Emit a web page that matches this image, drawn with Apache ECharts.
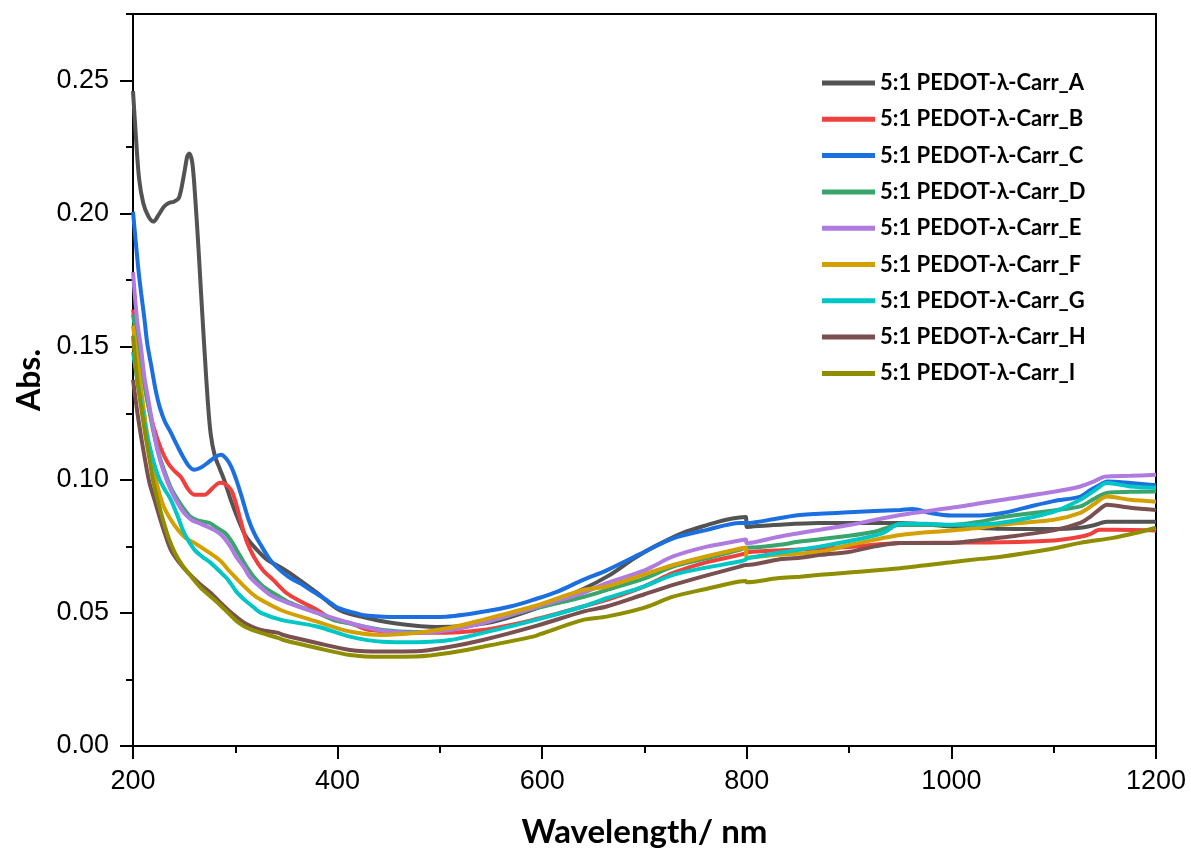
<!DOCTYPE html>
<html>
<head>
<meta charset="utf-8">
<script src="https://cdn.jsdelivr.net/npm/echarts@6/dist/echarts.min.js"></script>
<style>
html,body{margin:0;padding:0;background:#fff;}
#chart{width:1191px;height:859px;}
</style>
</head>
<body>
<div id="chart"></div>
<script>
// ---- data (wavelength nm, absorbance) ----
const seriesNames = ['5:1 PEDOT-λ-Carr_A','5:1 PEDOT-λ-Carr_B','5:1 PEDOT-λ-Carr_C','5:1 PEDOT-λ-Carr_D','5:1 PEDOT-λ-Carr_E','5:1 PEDOT-λ-Carr_F','5:1 PEDOT-λ-Carr_G','5:1 PEDOT-λ-Carr_H','5:1 PEDOT-λ-Carr_I'];
const seriesColors = ['#535353','#f0403e','#1c6fe0','#38a56c','#b07be0','#d4a000','#00c6c6','#7a4f4f','#8e8e00'];

const dataA = [[200,0.246],[203,0.228],[206,0.213],[210,0.204],[215,0.199],[220,0.197],[225,0.1995],[230,0.2025],[235,0.204],[240,0.2045],[245,0.206],[250,0.215],[253,0.2215],[255,0.2226],[258,0.219],[261,0.205],[264,0.187],[267,0.167],[270,0.148],[273,0.13],[276,0.117],[280,0.109],[285,0.104],[290,0.099],[296,0.092],[303,0.085],[310,0.079],[318,0.075],[331,0.070],[345,0.067],[353,0.065],[380,0.0575],[402,0.051],[430,0.048],[461,0.0458],[497,0.0447],[550,0.0465],[600,0.0525],[640,0.059],[665,0.064],[690,0.0705],[710,0.075],[737,0.080],[761,0.083],[780,0.085],[799,0.086],[800,0.0823],[826,0.083],[870,0.0838],[950,0.0838],[1000,0.0825],[1048,0.0816],[1100,0.0815],[1126,0.082],[1140,0.083],[1152,0.0842],[1200,0.0842]];

const dataB = [[200,0.164],[205,0.150],[210,0.139],[215,0.128],[220,0.120],[227,0.112],[234,0.1064],[240,0.1035],[247,0.101],[253,0.097],[260,0.0944],[270,0.0944],[278,0.097],[285,0.0989],[290,0.0985],[296,0.0962],[300,0.092],[305,0.085],[311,0.077],[318,0.0712],[327,0.066],[337,0.0624],[350,0.0575],[363,0.0545],[380,0.0511],[396,0.0474],[412,0.0462],[428,0.0438],[444,0.0432],[461,0.0426],[493,0.0425],[542,0.0436],[591,0.0474],[640,0.0524],[663,0.0549],[700,0.060],[728,0.065],[760,0.069],[793,0.0718],[799,0.0725],[800,0.0728],[850,0.0738],[900,0.0748],[950,0.0763],[1000,0.0764],[1050,0.0765],[1100,0.0772],[1126,0.0786],[1135,0.0795],[1145,0.0812],[1160,0.0812],[1200,0.081]];

const dataC = [[200,0.2007],[205,0.18],[208,0.170],[211,0.161],[214,0.151],[218,0.1425],[222,0.134],[226,0.1275],[231,0.122],[237,0.1177],[243,0.113],[249,0.1086],[255,0.105],[260,0.1038],[266,0.1045],[273,0.1064],[280,0.1085],[286,0.1094],[291,0.108],[296,0.105],[301,0.1],[306,0.094],[313,0.085],[319,0.0795],[326,0.0748],[333,0.0705],[340,0.0674],[352,0.0635],[363,0.0612],[376,0.058],[389,0.0549],[400,0.052],[412,0.0505],[428,0.049],[444,0.0486],[461,0.0485],[500,0.0485],[542,0.0504],[570,0.0525],[591,0.0549],[615,0.058],[640,0.0624],[663,0.066],[695,0.072],[728,0.078],[761,0.0812],[793,0.0838],[800,0.0838],[830,0.0855],[852,0.0868],[900,0.0878],[950,0.0887],[962,0.089],[980,0.0875],[1000,0.0866],[1028,0.0866],[1050,0.0875],[1077,0.090],[1100,0.092],[1126,0.0937],[1136,0.0962],[1145,0.098],[1152,0.0994],[1175,0.0988],[1200,0.098]];

const dataD = [[200,0.162],[204,0.152],[208,0.143],[212,0.134],[216,0.126],[220,0.118],[225,0.110],[231,0.103],[237,0.097],[243,0.093],[250,0.089],[256,0.0862],[263,0.0848],[270,0.0842],[275,0.0838],[282,0.082],[290,0.080],[297,0.0765],[303,0.0725],[310,0.068],[318,0.0636],[327,0.060],[337,0.0575],[350,0.0545],[363,0.0524],[380,0.050],[396,0.0474],[412,0.046],[444,0.0436],[477,0.0428],[510,0.0438],[542,0.0462],[591,0.0515],[640,0.056],[663,0.0586],[700,0.063],[728,0.0674],[760,0.0705],[793,0.0737],[799,0.0745],[800,0.0745],[830,0.0755],[852,0.0768],[900,0.079],[925,0.0805],[950,0.0831],[1000,0.083],[1028,0.0843],[1050,0.086],[1100,0.0885],[1126,0.090],[1140,0.093],[1152,0.0951],[1175,0.0955],[1200,0.0956]];

const dataE = [[200,0.178],[204,0.16],[208,0.149],[211,0.139],[215,0.130],[220,0.119],[224,0.111],[230,0.103],[237,0.0962],[244,0.091],[250,0.0875],[257,0.085],[264,0.0838],[272,0.0825],[280,0.081],[287,0.079],[295,0.075],[301,0.071],[308,0.0674],[314,0.0636],[324,0.0599],[335,0.0565],[350,0.054],[380,0.050],[412,0.0462],[444,0.0433],[477,0.0425],[510,0.0436],[542,0.0462],[591,0.0518],[640,0.0575],[663,0.0612],[700,0.066],[728,0.0712],[761,0.0749],[796,0.0774],[799,0.0776],[800,0.0762],[830,0.0785],[871,0.0812],[900,0.083],[950,0.0868],[1000,0.0895],[1028,0.0912],[1050,0.0925],[1100,0.0955],[1126,0.0975],[1140,0.0995],[1150,0.1012],[1175,0.1015],[1200,0.1019]];

const dataF = [[200,0.158],[204,0.146],[208,0.134],[212,0.122],[216,0.112],[220,0.104],[225,0.096],[230,0.090],[237,0.085],[244,0.0812],[252,0.078],[260,0.0763],[270,0.0738],[280,0.0712],[287,0.069],[293,0.0662],[301,0.063],[309,0.0599],[317,0.057],[325,0.0549],[345,0.051],[380,0.0467],[412,0.043],[444,0.0417],[477,0.0425],[510,0.0444],[542,0.0474],[591,0.0524],[640,0.0586],[663,0.0599],[700,0.0645],[728,0.068],[760,0.0712],[796,0.0744],[799,0.0745],[800,0.0707],[830,0.0718],[872,0.073],[900,0.0755],[950,0.0793],[1000,0.081],[1028,0.082],[1047,0.0831],[1100,0.085],[1126,0.0876],[1140,0.091],[1152,0.0937],[1175,0.0925],[1200,0.0918]];

const dataG = [[200,0.148],[204,0.138],[208,0.129],[212,0.12],[216,0.113],[220,0.107],[225,0.101],[230,0.097],[237,0.0925],[244,0.086],[250,0.080],[260,0.0737],[268,0.071],[276,0.0688],[285,0.0655],[293,0.0624],[301,0.058],[309,0.0549],[317,0.0524],[325,0.050],[345,0.0474],[380,0.0449],[412,0.0411],[444,0.0392],[477,0.039],[510,0.0398],[542,0.0425],[595,0.0475],[640,0.0524],[663,0.0555],[700,0.06],[728,0.0643],[760,0.067],[793,0.0693],[799,0.070],[800,0.0705],[830,0.0725],[872,0.075],[900,0.077],[933,0.080],[950,0.0835],[975,0.0835],[1000,0.0831],[1047,0.0838],[1100,0.088],[1126,0.0925],[1140,0.096],[1152,0.0988],[1175,0.0975],[1200,0.097]];

const dataH = [[200,0.1376],[204,0.126],[208,0.116],[212,0.107],[216,0.099],[221,0.0925],[226,0.086],[231,0.080],[237,0.0737],[245,0.069],[254,0.065],[265,0.061],[276,0.0575],[285,0.054],[293,0.0511],[301,0.0485],[309,0.0462],[317,0.0447],[325,0.0436],[342,0.0425],[347,0.0417],[380,0.0387],[412,0.0361],[444,0.0355],[477,0.0356],[510,0.0373],[542,0.0398],[595,0.0452],[640,0.0505],[663,0.0524],[700,0.057],[728,0.0605],[760,0.064],[793,0.0674],[799,0.068],[800,0.068],[830,0.070],[852,0.0707],[872,0.0718],[901,0.073],[925,0.075],[950,0.0763],[1000,0.0763],[1028,0.0774],[1047,0.0782],[1100,0.081],[1126,0.0838],[1136,0.0862],[1145,0.089],[1152,0.0906],[1175,0.0895],[1200,0.0887]];

const dataI = [[200,0.154],[204,0.138],[208,0.127],[212,0.117],[216,0.108],[220,0.099],[224,0.0925],[230,0.084],[235,0.078],[241,0.0725],[248,0.068],[257,0.0636],[266,0.0595],[276,0.0561],[285,0.053],[293,0.050],[301,0.047],[309,0.0449],[317,0.0435],[325,0.0425],[342,0.0406],[347,0.0398],[380,0.0368],[412,0.0342],[444,0.0335],[477,0.0336],[510,0.035],[542,0.0373],[591,0.0411],[598,0.042],[640,0.0474],[663,0.0486],[700,0.052],[728,0.0561],[760,0.059],[793,0.0618],[799,0.062],[800,0.0615],[830,0.063],[852,0.0636],[872,0.0643],[900,0.0652],[950,0.0668],[1000,0.069],[1028,0.0703],[1047,0.071],[1093,0.0737],[1126,0.0763],[1158,0.0782],[1180,0.080],[1200,0.082]];

const allData = [dataA,dataB,dataC,dataD,dataE,dataF,dataG,dataH,dataI];

const xTicks = [200,400,600,800,1000,1200];
const yTicks = [0,0.05,0.10,0.15,0.20,0.25];
const yMinorTicks = [0.025,0.075,0.125,0.175,0.225,0.275];

const chart = echarts.init(document.getElementById('chart'), null, {renderer:'canvas'});
const tickFont = 'Liberation Sans, Arial, sans-serif';
const boldFont = 'Lato, "Open Sans", sans-serif';

const option = {
  animation:false,
  backgroundColor:'#ffffff',
  grid:{left:133,right:35,top:14,bottom:113,show:true,borderColor:'#000',borderWidth:2,backgroundColor:'transparent'},
  legend:{
    orient:'vertical',left:817,top:67,
    icon:'rect',
    itemWidth:53,itemHeight:5,itemGap:14.3,
    textStyle:{fontFamily:boldFont,fontWeight:'bold',fontSize:22,color:'#000',lineHeight:20},
    data:seriesNames
  },
  xAxis:{
    type:'value',min:200,max:1200,interval:200,
    name:'Wavelength/ nm',nameLocation:'middle',nameGap:70,
    nameTextStyle:{fontFamily:boldFont,fontWeight:'bold',fontSize:33,color:'#000'},
    axisLine:{show:true,lineStyle:{color:'#000',width:2}},
    axisTick:{show:true,inside:false,length:13,lineStyle:{color:'#000',width:2},customValues:xTicks},
    minorTick:{show:true,splitNumber:2,length:7,lineStyle:{color:'#000',width:2}},
    axisLabel:{fontFamily:tickFont,fontSize:27,color:'#000',margin:22,customValues:xTicks,
      formatter:v=>String(v)},
    splitLine:{show:false}
  },
  yAxis:[{
    type:'value',min:0,max:0.275,interval:0.05,
    name:'Abs.',nameLocation:'middle',nameGap:86,
    nameTextStyle:{fontFamily:boldFont,fontWeight:'bold',fontSize:32,color:'#000'},
    axisLine:{show:true,lineStyle:{color:'#000',width:2}},
    axisTick:{show:true,inside:false,length:13,lineStyle:{color:'#000',width:2},customValues:yTicks},
    axisLabel:{fontFamily:tickFont,fontSize:27,color:'#000',margin:24,customValues:yTicks,
      formatter:v=>v.toFixed(2)},
    splitLine:{show:false}
  },{
    type:'value',min:0,max:0.275,position:'left',
    axisLine:{show:false},
    axisTick:{show:true,inside:false,length:7,lineStyle:{color:'#000',width:2},customValues:yMinorTicks},
    axisLabel:{show:false},
    splitLine:{show:false}
  }],
  series: allData.map((d,i)=>({
    name:seriesNames[i],type:'line',data:d,
    symbol:'none',smooth:0.3,
    color:seriesColors[i],
    itemStyle:{color:seriesColors[i]},
    lineStyle:{width:4,color:seriesColors[i]},
    yAxisIndex:0
  }))
};
chart.setOption(option);
</script>
</body>
</html>
